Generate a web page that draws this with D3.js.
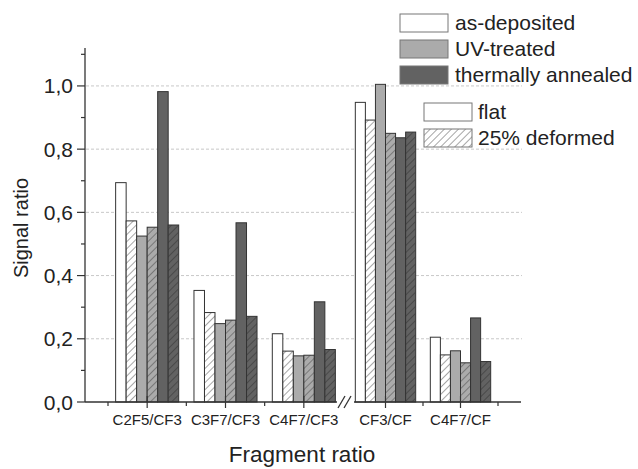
<!DOCTYPE html>
<html><head><meta charset="utf-8">
<script src="https://cdn.jsdelivr.net/npm/d3@7"></script>
<style>html,body{margin:0;padding:0;background:#fff;}svg{display:block;font-family:Arial,"Liberation Sans",sans-serif;}</style>
</head><body>
<svg id="c" width="638" height="469"></svg>
<script>
const categories = ["C2F5/CF3","C3F7/CF3","C4F7/CF3","CF3/CF","C4F7/CF"];
const asDepFlat     = [0.694,0.353,0.216,0.948,0.205];
const asDepDeformed = [0.573,0.283,0.161,0.892,0.149];
const uvFlat        = [0.525,0.248,0.146,1.005,0.162];
const uvDeformed    = [0.553,0.259,0.148,0.850,0.124];
const thFlat        = [0.982,0.567,0.317,0.836,0.266];
const thDeformed    = [0.560,0.271,0.166,0.854,0.128];
const seriesNames = ["as-deposited","UV-treated","thermally annealed"];
const surfaceNames = ["flat","25% deformed"];
const yTicks = [0,0.2,0.4,0.6,0.8,1.0];
const yMinorTicks = [0.1,0.3,0.5,0.7,0.9,1.1];

const series = [
  {vals: asDepFlat, treat:0, hatch:false},
  {vals: asDepDeformed, treat:0, hatch:true},
  {vals: uvFlat, treat:1, hatch:false},
  {vals: uvDeformed, treat:1, hatch:true},
  {vals: thFlat, treat:2, hatch:false},
  {vals: thDeformed, treat:2, hatch:true}
];
const fills = ["#ffffff","#ababab","#626262"];

const svg = d3.select("#c");
const y = d3.scaleLinear().domain([0,1.12]).range([402, 48]);
// broken x axis: two segments
const xLeft = d3.scaleLinear().domain([0,3]).range([108,343]);
const xRight = d3.scaleLinear().domain([3,5]).range([348,498]);
const segScale = i => i < 3 ? xLeft : xRight;
const xc = i => segScale(i)(i + 0.5);
const unit = i => segScale(i)(i+1) - segScale(i)(i);

// hatch patterns
const defs = svg.append("defs");
fills.forEach((f,k)=>{
  const p = defs.append("pattern").attr("id","h"+k).attr("patternUnits","userSpaceOnUse")
    .attr("width",5).attr("height",5).attr("patternTransform","rotate(45)");
  p.append("rect").attr("width",5).attr("height",5).attr("fill",f);
  p.append("line").attr("x1",0).attr("y1",0).attr("x2",0).attr("y2",5)
    .attr("stroke", k===2 ? "#2a2a2a" : "#3a3a3a").attr("stroke-width",0.9);
});

// gridlines
svg.append("g").selectAll("line").data(yTicks.slice(1)).join("line")
  .attr("x1",86).attr("x2",522).attr("y1",d=>y(d)).attr("y2",d=>y(d))
  .attr("stroke","#c8c8c8").attr("stroke-dasharray","3,2").attr("stroke-width",1);

// bars
const gBars = svg.append("g");
categories.forEach((c,i)=>{
  const bw = unit(i)*0.805/6;
  const start = xc(i) - bw*3;
  series.forEach((s,j)=>{
    gBars.append("rect")
      .attr("x", start + j*bw).attr("width", bw)
      .attr("y", y(s.vals[i])).attr("height", y(0)-y(s.vals[i]))
      .attr("fill", s.hatch ? "url(#h"+s.treat+")" : fills[s.treat])
      .attr("stroke","#333").attr("stroke-width",1);
  });
});

// y axis
const yAxis = svg.append("g").attr("transform","translate(85,0)");
yAxis.append("line").attr("x1",0).attr("x2",0).attr("y1",y(0)).attr("y2",48).attr("stroke","#333").attr("stroke-width",1.3);
const fmt = d3.formatLocale({decimal:",",thousands:".",grouping:[3],currency:["",""]}).format(".1f");
yAxis.selectAll(".maj").data(yTicks).join("line").attr("class","maj")
  .attr("x1",-8).attr("x2",0).attr("y1",d=>y(d)).attr("y2",d=>y(d)).attr("stroke","#333").attr("stroke-width",1.2);
yAxis.selectAll(".min").data(yMinorTicks).join("line").attr("class","min")
  .attr("x1",-4).attr("x2",0).attr("y1",d=>y(d)).attr("y2",d=>y(d)).attr("stroke","#333").attr("stroke-width",1.2);
yAxis.selectAll("text").data(yTicks).join("text")
  .attr("x",-12).attr("y",d=>y(d)).attr("dy","0.36em").attr("text-anchor","end")
  .attr("font-size",21).attr("fill","#222").text(d=>fmt(d));

// x axis with break
const xa = svg.append("g");
xa.append("line").attr("x1",85).attr("x2",337).attr("y1",y(0)).attr("y2",y(0)).attr("stroke","#333").attr("stroke-width",1.3);
xa.append("line").attr("x1",354).attr("x2",521).attr("y1",y(0)).attr("y2",y(0)).attr("stroke","#333").attr("stroke-width",1.3);
[0,6].forEach(o=>{
  xa.append("line").attr("x1",338+o).attr("x2",345+o).attr("y1",y(0)+6).attr("y2",y(0)-6)
    .attr("stroke","#333").attr("stroke-width",1.3);
});
// major ticks at category centers (cross)
xa.selectAll(".mj").data(categories).join("line").attr("class","mj")
  .attr("x1",(d,i)=>xc(i)).attr("x2",(d,i)=>xc(i)).attr("y1",y(0)-6).attr("y2",y(0)+6)
  .attr("stroke","#333").attr("stroke-width",1.2);
// minor ticks between categories
const minorX = [xLeft(0),xLeft(1),xLeft(2),xRight(4),xRight(5)];
xa.selectAll(".mn").data(minorX).join("line").attr("class","mn")
  .attr("x1",d=>d).attr("x2",d=>d).attr("y1",y(0)).attr("y2",y(0)+4)
  .attr("stroke","#333").attr("stroke-width",1.2);
xa.selectAll("text").data(categories).join("text")
  .attr("x",(d,i)=>xc(i)).attr("y",425).attr("text-anchor","middle")
  .attr("font-size",15).attr("fill","#222").text(d=>d);

// axis titles
svg.append("text").attr("x",302).attr("y",462).attr("text-anchor","middle")
  .attr("font-size",22.5).attr("fill","#222").text("Fragment ratio");
svg.append("text").attr("transform","translate(28,228) rotate(-90)").attr("text-anchor","middle")
  .attr("font-size",20).attr("fill","#222").text("Signal ratio");

// legend 1
const lg1 = svg.append("g");
seriesNames.forEach((n,k)=>{
  const ty = 14 + k*26;
  lg1.append("rect").attr("x",400).attr("y",ty).attr("width",48).attr("height",18)
    .attr("fill",fills[k]).attr("stroke","#777").attr("stroke-width",1);
  lg1.append("text").attr("x",455).attr("y",ty+16).attr("font-size",21).attr("fill","#222").text(n);
});
// legend 2
const lg2 = svg.append("g");
surfaceNames.forEach((n,k)=>{
  const ty = 103 + k*26;
  lg2.append("rect").attr("x",424).attr("y",ty).attr("width",48).attr("height",18)
    .attr("fill", k===1 ? "url(#h0)" : "#fff").attr("stroke","#777").attr("stroke-width",1);
  lg2.append("text").attr("x",478).attr("y",ty+16).attr("font-size",21).attr("fill","#222").text(n);
});
</script>
</body></html>
